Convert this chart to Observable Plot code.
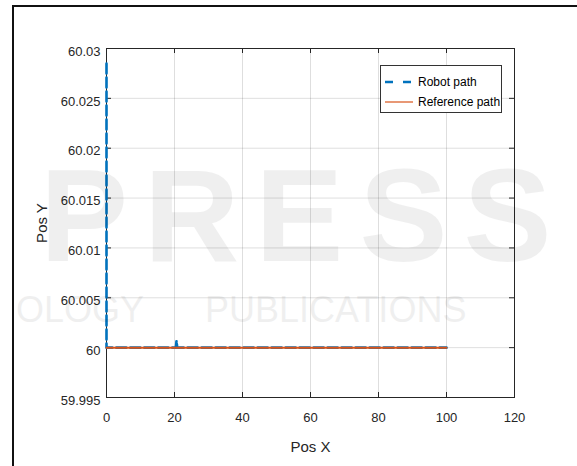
<!DOCTYPE html>
<html><head><meta charset="utf-8">
<script src="https://cdn.jsdelivr.net/npm/d3@7"></script>
<script src="https://cdn.jsdelivr.net/npm/@observablehq/plot@0.6"></script>
<style>
body{margin:0;width:577px;height:466px;overflow:hidden;background:#fff;position:relative;font-family:"Liberation Sans",Arial,sans-serif;}
#chart{position:absolute;left:0;top:0;}
#frame{position:absolute;left:12px;top:5px;width:700px;height:700px;border-left:2px solid #111;border-top:2px solid #111;}
.wm{position:absolute;color:#000;opacity:0.06;white-space:nowrap;pointer-events:none;font-family:"Liberation Sans",Arial,sans-serif;line-height:1;}
#legend{position:absolute;left:380px;top:65px;width:122px;height:48px;border:1px solid #333;background:#fff;box-sizing:border-box;}
</style></head><body>
<div id="chart"></div>
<div id="frame"></div>
<div id="legend"></div>
<div class="wm" style="left:40px;top:150px;font-size:132px;font-weight:bold;letter-spacing:16px;">PRESS</div>
<div class="wm" style="left:16px;top:292px;font-size:36px;">OLOGY</div>
<div class="wm" style="left:205px;top:292px;font-size:36px;">PUBLICATIONS</div>
<script>
const robotX = [0, 0, 20.4, 20.6, 20.8, 100];
const robotY = [60.0285, 60, 60, 60.0007, 60, 60];
const refX = [0, 100];
const refY = [60, 60];
const xTicks = [0, 20, 40, 60, 80, 100, 120];
const yTicks = [59.995, 60, 60.005, 60.01, 60.015, 60.02, 60.025, 60.03];
const yTickLabels = ["59.995", "60", "60.005", "60.01", "60.015", "60.02", "60.025", "60.03"];
const seriesNames = ["Robot path", "Reference path"];
const seriesColors = ["#0072BD", "#D95319"];

const robot = robotX.map((x, i) => ({x, y: robotY[i]}));
const ref = refX.map((x, i) => ({x, y: refY[i]}));

const W = 577, H = 466;
const mL = 106, mR = 63, mT = 48, mB = 69;
const pw = W - mL - mR, ph = H - mT - mB;
const txt = "#262626";

const chart = Plot.plot({
  width: W, height: H,
  marginLeft: mL, marginRight: mR, marginTop: mT, marginBottom: mB,
  style: {fontFamily: '"Liberation Sans", Arial, sans-serif', fontSize: "13px", color: txt, background: "transparent"},
  x: {domain: [0, 120]},
  y: {domain: [59.995, 60.03]},
  marks: [
    Plot.gridX(xTicks, {stroke: "#000", strokeOpacity: 0.13}),
    Plot.gridY(yTicks, {stroke: "#000", strokeOpacity: 0.13}),
    Plot.tickX(xTicks, {x: d => d, stroke: txt, insetTop: ph - 5}),
    Plot.tickX(xTicks, {x: d => d, stroke: txt, insetBottom: ph - 5}),
    Plot.tickY(yTicks, {y: d => d, stroke: txt, insetRight: pw - 5}),
    Plot.tickY(yTicks, {y: d => d, stroke: txt, insetLeft: pw - 5}),
    Plot.frame({stroke: txt, strokeWidth: 1}),
    Plot.line(robot, {x: "x", y: "y", stroke: seriesColors[0], strokeWidth: 2.6, strokeDasharray: "10,4"}),
    Plot.line(ref, {x: "x", y: "y", stroke: seriesColors[1], strokeWidth: 2}),
    Plot.axisX({ticks: xTicks, anchor: "bottom", tickSize: 0, tickPadding: 15, fontSize: 13, tickFormat: d => String(d),
      label: "Pos X", labelAnchor: "center", labelOffset: 54, labelArrow: "none"}),
    Plot.axisY({ticks: yTicks, anchor: "left", tickSize: 0, tickPadding: 6, fontSize: 13, dy: 3,
      tickFormat: d => yTickLabels[yTicks.indexOf(d)],
      label: "Pos Y", labelAnchor: "center", labelOffset: 70, labelArrow: "none"})
  ]
});
document.getElementById("chart").appendChild(chart);
d3.select(chart).selectAll("[aria-label='x-axis label'] text, [aria-label='y-axis label'] text").style("font-size", "15px");

// legend
const lg = d3.select("#legend").append("svg").attr("width", 120).attr("height", 46)
  .style("font-family", '"Liberation Sans", Arial, sans-serif').style("font-size", "12px");
seriesNames.forEach((name, i) => {
  const cy = 16 + i * 20;
  lg.append("line").attr("x1", 4).attr("x2", 32).attr("y1", cy).attr("y2", cy)
    .attr("stroke", seriesColors[i]).attr("stroke-width", i === 0 ? 2.6 : 1.2)
    .attr("stroke-dasharray", i === 0 ? "8,10" : null);
  lg.append("text").attr("x", 37).attr("y", cy).attr("dy", "0.35em").attr("fill", "#000").text(name);
});
</script>
</body></html>
